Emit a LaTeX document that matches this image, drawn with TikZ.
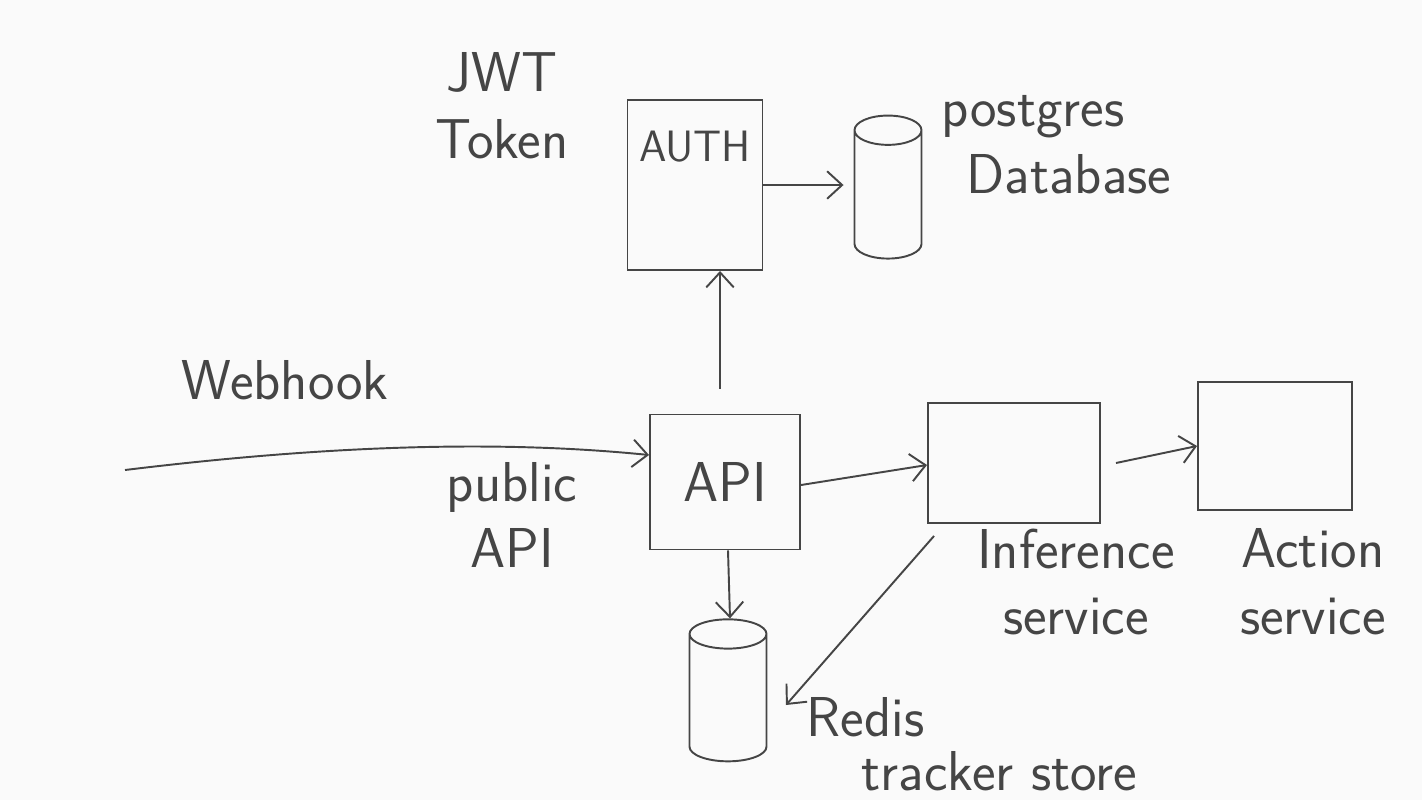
\documentclass[tikz,border=0pt]{standalone}
\usepackage{tikz}
\usetikzlibrary{arrows,arrows.meta,shapes.geometric,positioning}
\definecolor{ink}{HTML}{454545}
\definecolor{paper}{HTML}{FAFAFA}
\tikzset{every node/.style={font=\sffamily\fontsize{32}{38}\selectfont,text=ink}}

\begin{document}
\begin{tikzpicture}[->,>={Straight Barb[length=3mm,width=5.5mm]},line width=1.1pt,draw=ink,x=0.2mm,y=-0.2mm]
  \tikzstyle{box}=[rectangle,draw=ink,minimum width=27mm,minimum height=34mm]
  \tikzstyle{store}=[cylinder,shape border rotate=90,aspect=2.5,draw=ink]
  \tikzstyle{note}=[align=center]

  \fill[paper,-] (0,0) rectangle (1422,800);
  \useasboundingbox (0,0) rectangle (1422,800);

  \node[box,label={[below=5mm,font=\sffamily\fontsize{25}{30}\selectfont]north:AUTH}] (auth) at (695,185) {};
  \node[store,minimum width=13.4mm,minimum height=28.6mm] (pg) at (888,199) {};
  \node[box,minimum width=30mm,minimum height=27mm] (api) at (725,482) {API};
  \node[store,minimum width=15.4mm,minimum height=28.4mm] (redis) at (728,702) {};
  \node[box,minimum width=34.4mm,minimum height=24mm] (inf) at (1014,463) {};
  \node[box,minimum width=30.8mm,minimum height=25.6mm] (act) at (1275,446) {};
  \coordinate (hook) at (125,470);

  \node[note] (jwt)      at (502,106) {JWT\\Token};
  \node[align=left,anchor=west] (pglabel) at (935,145) {postgres\\\hspace*{5mm}Database};
  \node[note] (hooklbl)  at (285,380) {Webhook};
  \node[note] (publbl)   at (512,515) {public\\API};
  \node[note] (inflabel) at (1076,582) {Inference\\service};
  \node[note] (actlabel) at (1313,582) {Action\\service};
  \node[align=left,anchor=west] (redislabel) at (800,744) {Redis\\[-2.5mm]\hspace*{11mm}tracker store};

  \draw (hook) .. controls (330,445) and (500,440) .. ([yshift=5.4mm]api.west);
  \draw ([xshift=-1mm]api.north) ++(0,-25) -- ([xshift=-1mm]api.north |- auth.south);
  \draw (auth.east) -- ([xshift=-2mm]auth.east -| pg.west);
  \draw ([yshift=-0.6mm]api.east) -- ([yshift=-0.4mm]inf.west);
  \draw ([xshift=3mm]inf.east) -- (act.west);
  \draw ([xshift=0.6mm]api.south) -- ([xshift=0.4mm]redis.north);
  \draw ([xshift=1.4mm,yshift=-2.4mm]inf.south west) -- ([xshift=3.7mm,yshift=-0.6mm]redis.east);
\end{tikzpicture}
\end{document}
